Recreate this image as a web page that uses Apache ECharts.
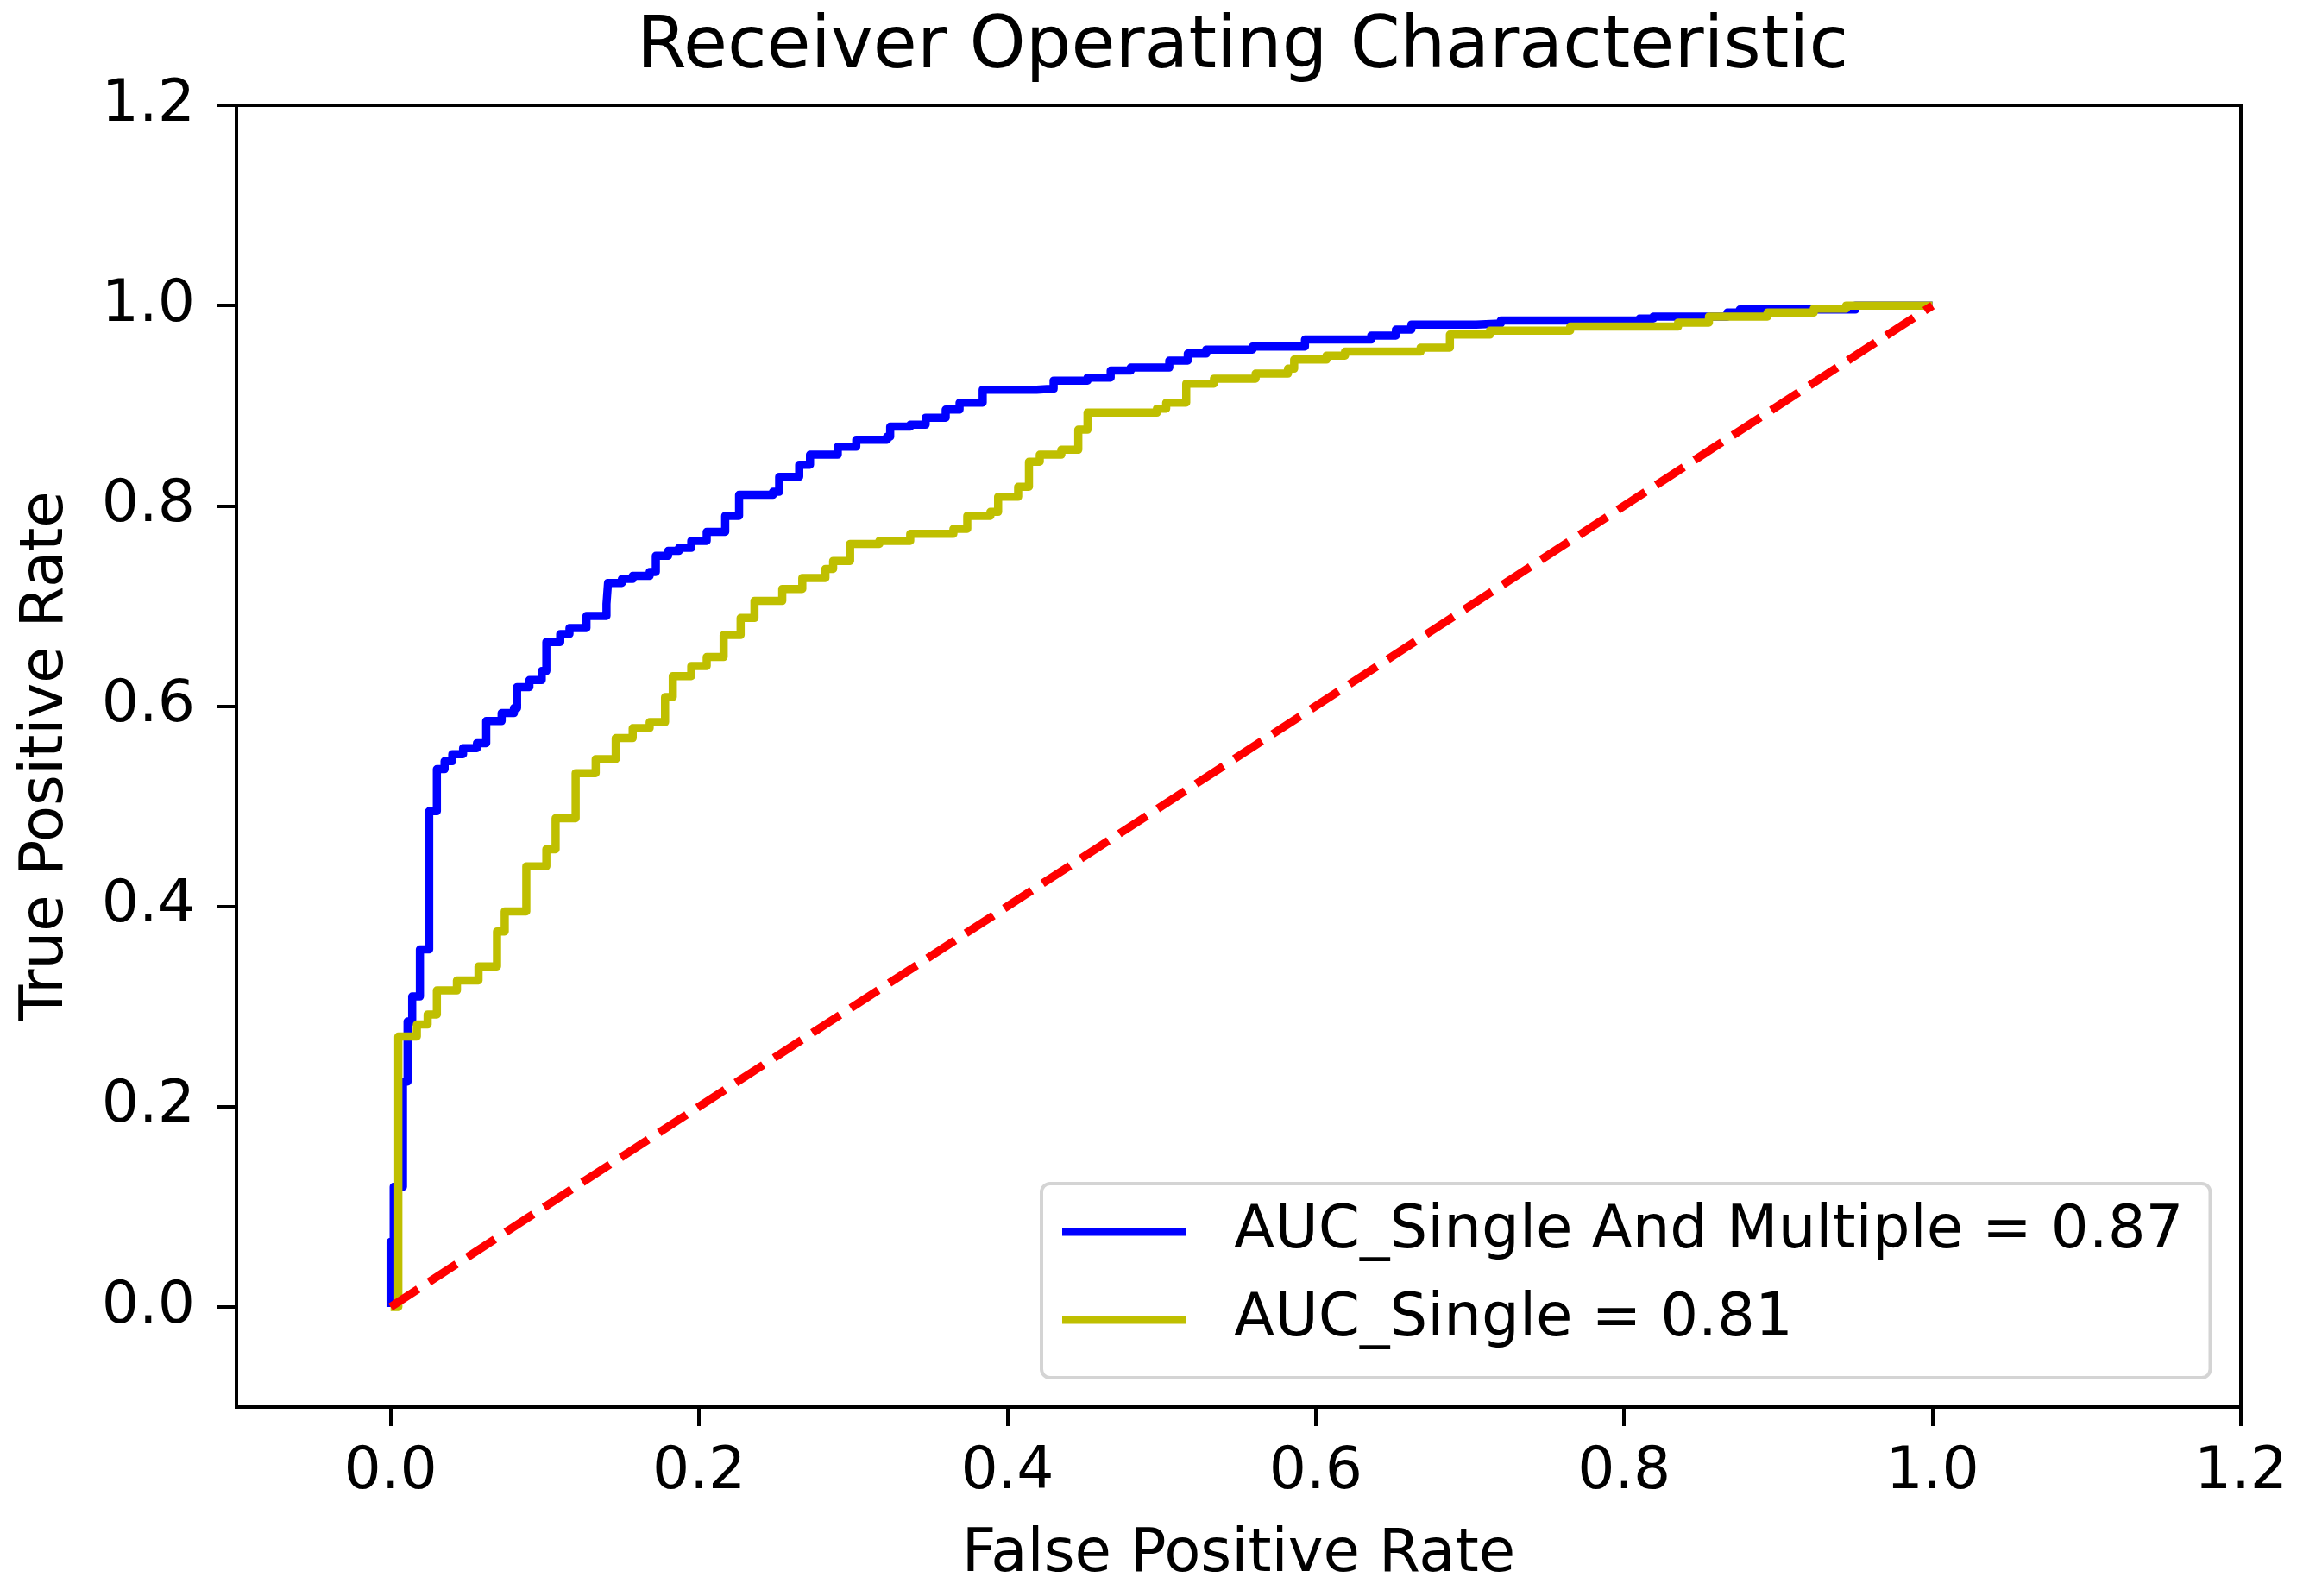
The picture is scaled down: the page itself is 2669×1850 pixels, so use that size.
<!DOCTYPE html>
<html>
<head>
<meta charset="utf-8">
<script src="https://cdn.jsdelivr.net/npm/echarts@6/dist/echarts.min.js"></script>
<style>html,body{margin:0;padding:0;background:#fff;}#c{width:2669px;height:1850px;}</style>
</head>
<body>
<div id="c"></div>
<script>
const titleText = 'Receiver Operating Characteristic';
const xName = 'False Positive Rate';
const yName = 'True Positive Rate';
const xTicks = [0, 0.2, 0.4, 0.6, 0.8, 1.0, 1.2];
const yTicks = [0, 0.2, 0.4, 0.6, 0.8, 1.0, 1.2];
const blueName = 'AUC_Single And Multiple = 0.87';
const yellowName = 'AUC_Single = 0.81';

const blueFpr = [0, 0, 0.002, 0.008, 0.011, 0.014, 0.019, 0.025, 0.030, 0.035, 0.040, 0.047, 0.056, 0.062, 0.072, 0.080, 0.082, 0.090, 0.098, 0.101, 0.110, 0.116, 0.127, 0.140, 0.141, 0.150, 0.157, 0.168, 0.172, 0.180, 0.187, 0.195, 0.205, 0.217, 0.226, 0.248, 0.252, 0.265, 0.272, 0.290, 0.302, 0.322, 0.324, 0.337, 0.347, 0.360, 0.369, 0.384, 0.419, 0.430, 0.452, 0.467, 0.480, 0.505, 0.517, 0.529, 0.559, 0.593, 0.636, 0.652, 0.662, 0.704, 0.720, 0.810, 0.819, 0.867, 0.875, 0.950, 1.0];
const blueTpr = [0, 0.065, 0.120, 0.225, 0.285, 0.310, 0.357, 0.495, 0.537, 0.545, 0.552, 0.558, 0.563, 0.585, 0.593, 0.598, 0.619, 0.626, 0.635, 0.664, 0.672, 0.678, 0.690, 0.702, 0.723, 0.727, 0.730, 0.734, 0.750, 0.755, 0.758, 0.765, 0.774, 0.790, 0.811, 0.814, 0.829, 0.841, 0.851, 0.859, 0.866, 0.869, 0.879, 0.881, 0.888, 0.896, 0.903, 0.916, 0.917, 0.925, 0.928, 0.935, 0.938, 0.945, 0.952, 0.956, 0.959, 0.966, 0.970, 0.976, 0.981, 0.982, 0.985, 0.987, 0.989, 0.993, 0.996, 1.0, 1.0];

const yellowFpr = [0, 0.005, 0.017, 0.024, 0.030, 0.043, 0.057, 0.069, 0.074, 0.088, 0.101, 0.107, 0.120, 0.133, 0.146, 0.157, 0.168, 0.178, 0.183, 0.195, 0.205, 0.216, 0.227, 0.236, 0.254, 0.267, 0.282, 0.287, 0.298, 0.317, 0.337, 0.365, 0.374, 0.389, 0.394, 0.407, 0.414, 0.421, 0.435, 0.446, 0.452, 0.497, 0.503, 0.516, 0.534, 0.561, 0.582, 0.586, 0.607, 0.619, 0.668, 0.687, 0.713, 0.765, 0.835, 0.855, 0.893, 0.923, 0.944, 1.0];
const yellowTpr = [0, 0.270, 0.282, 0.292, 0.316, 0.326, 0.340, 0.375, 0.395, 0.440, 0.457, 0.488, 0.533, 0.547, 0.568, 0.578, 0.584, 0.609, 0.630, 0.640, 0.649, 0.671, 0.688, 0.705, 0.717, 0.728, 0.737, 0.745, 0.762, 0.765, 0.772, 0.777, 0.790, 0.794, 0.809, 0.819, 0.844, 0.851, 0.856, 0.876, 0.893, 0.897, 0.903, 0.922, 0.927, 0.932, 0.937, 0.946, 0.950, 0.954, 0.958, 0.971, 0.975, 0.979, 0.983, 0.989, 0.993, 0.997, 1.0, 1.0];

const diagX = [0, 1];
const diagY = [0, 1];

const zip = (a, b) => a.map((v, i) => [v, b[i]]);
const FONT = 'DejaVu Sans';

const chart = echarts.init(document.getElementById('c'), null, {renderer: 'canvas'});
chart.setOption({
  animation: false,
  backgroundColor: '#ffffff',
  title: {
    text: titleText,
    left: 1435,
    textAlign: 'center',
    top: 10,
    textStyle: {fontFamily: FONT, fontSize: 83, fontWeight: 'normal', color: '#000'}
  },
  grid: {left: 274, right: 72, top: 122, bottom: 219, show: true, borderColor: '#000', borderWidth: 4, backgroundColor: 'transparent'},
  legend: {
    orient: 'vertical',
    left: 1207,
    top: 1372,
    padding: [16, 31, 27, 24],
    itemGap: 22,
    itemWidth: 144,
    itemHeight: 9,
    icon: 'rect',
    backgroundColor: '#fff',
    borderColor: '#d4d4d4',
    borderWidth: 4,
    borderRadius: 10,
    data: [blueName, yellowName],
    textStyle: {fontFamily: FONT, fontSize: 69, color: '#000', lineHeight: 80, padding: [0, 0, 0, 50]}
  },
  xAxis: {
    type: 'value',
    min: -0.1,
    max: 1.2,
    name: xName,
    nameLocation: 'middle',
    nameGap: 138,
    nameTextStyle: {fontFamily: FONT, fontSize: 69, color: '#000'},
    axisLine: {show: true, onZero: false, lineStyle: {color: '#000', width: 4}},
    axisTick: {show: true, length: 22, lineStyle: {color: '#000', width: 4}, customValues: xTicks},
    axisLabel: {fontFamily: FONT, fontSize: 68, color: '#000', margin: 42, customValues: xTicks, formatter: v => v.toFixed(1)},
    splitLine: {show: false}
  },
  yAxis: {
    type: 'value',
    min: -0.1,
    max: 1.2,
    name: yName,
    nameLocation: 'middle',
    nameGap: 185,
    nameTextStyle: {fontFamily: FONT, fontSize: 69, color: '#000'},
    axisLine: {show: true, onZero: false, lineStyle: {color: '#000', width: 4}},
    axisTick: {show: true, length: 22, lineStyle: {color: '#000', width: 4}, customValues: yTicks},
    axisLabel: {fontFamily: FONT, fontSize: 68, color: '#000', margin: 48, customValues: yTicks, formatter: v => v.toFixed(1)},
    splitLine: {show: false}
  },
  series: [
    {
      name: blueName,
      type: 'line',
      step: 'end',
      symbol: 'none',
      data: zip(blueFpr, blueTpr),
      itemStyle: {color: '#0000ff'},
      lineStyle: {color: '#0000ff', width: 9.5, join: 'round'},
      z: 2
    },
    {
      name: yellowName,
      type: 'line',
      step: 'end',
      symbol: 'none',
      data: zip(yellowFpr, yellowTpr),
      itemStyle: {color: '#bfbf00'},
      lineStyle: {color: '#bfbf00', width: 9.5, join: 'round'},
      z: 3
    },
    {
      name: 'diag',
      type: 'line',
      symbol: 'none',
      data: zip(diagX, diagY),
      itemStyle: {color: '#ff0000'},
      lineStyle: {color: '#ff0000', width: 9.5, type: [38, 15]},
      z: 4
    }
  ]
});
</script>
</body>
</html>
